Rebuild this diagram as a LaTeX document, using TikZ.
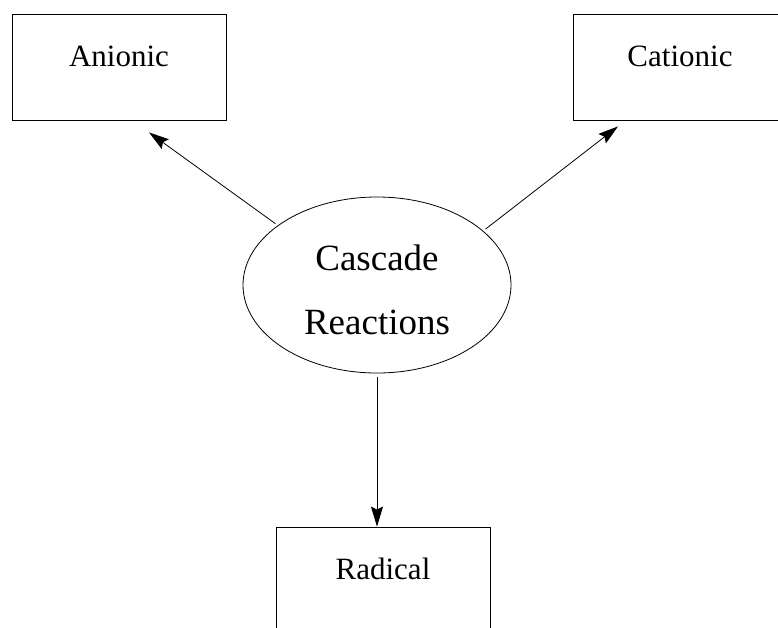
\documentclass[tikz,border=0pt]{standalone}
\usepackage{fontspec}
\setmainfont{Liberation Serif}
\usetikzlibrary{arrows.meta,shapes.geometric}
\begin{document}
\begin{tikzpicture}[x=1pt,y=-1pt,
  box/.style={draw, line width=0.8pt, minimum width=214pt, minimum height=106pt, inner sep=0pt,
    font=\fontsize{31}{36}\selectfont, text height=20pt, text depth=22pt},
  oval/.style={draw, ellipse, line width=0.8pt, minimum width=268pt, minimum height=176pt, inner sep=0pt,
    font=\fontsize{37}{64}\selectfont, align=center, text height=98pt, text depth=0pt},
  arr/.style={line width=0.8pt, -{Stealth[length=20pt,width=12pt,inset=3pt]}}]
\useasboundingbox (0,0) rectangle (778,627);
\node[box] (an) at (119,67) {Anionic};
\node[box] (cat) at (680,67) {Cationic};
\node[box] (rad) at (383,580) {Radical};
\node[oval] (casc) at (377,285) {Cascade\\Reactions};
\draw[arr, shorten <=3pt] (casc.149) -- ([xshift=30pt,yshift=-12pt]an.south);
\draw[arr, shorten <=3pt] (casc.27) -- ([xshift=-62pt,yshift=-6pt]cat.south);
\draw[arr, shorten <=4pt] (casc.south) -- ([xshift=-6pt]rad.north);
\end{tikzpicture}
\end{document}
